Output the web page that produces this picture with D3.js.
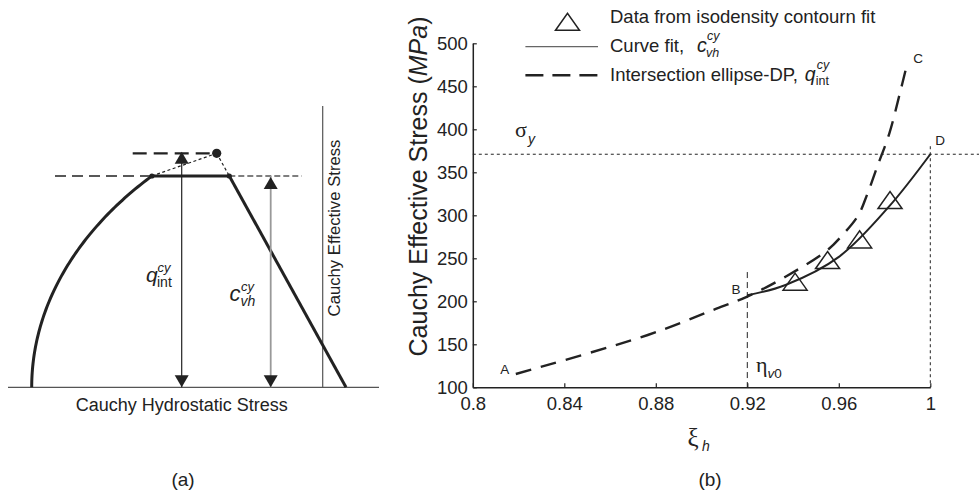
<!DOCTYPE html>
<html>
<head>
<meta charset="utf-8">
<script src="https://cdn.jsdelivr.net/npm/d3@7"></script>
<style>
  body { margin: 0; background: #fff; }
  text { font-family: "Liberation Sans", Arial, sans-serif; fill: #222; }
  .greek { font-family: "Liberation Serif", "Times New Roman", serif; }
</style>
</head>
<body>
<svg id="fig" width="979" height="494"></svg>
<script>
// ---------- panel (b) data ----------
const xiTicks = [0.8, 0.84, 0.88, 0.92, 0.96, 1];
const stressTicks = [100, 150, 200, 250, 300, 350, 400, 450, 500];

// isodensity contour fit points
const isoXi     = [0.9409, 0.9551, 0.9691, 0.9824];
const isoStress = [222.8, 248.0, 272.0, 317.8];

// curve fit c_vh (B -> D)
const fitXi     = [0.92, 0.9367, 0.9602, 0.9819, 1.0];
const fitStress = [207, 219, 252, 310, 371];

// intersection ellipse-DP q_int (A -> B -> C)
const intXi     = [0.8188, 0.8765, 0.9050, 0.9200, 0.9367, 0.9551, 0.9619, 0.9685, 0.9725, 0.9768, 0.9821, 0.9868, 0.9894];
const intStress = [115.5, 160.8, 189.9, 205.5, 228.6, 259.7, 277.9, 300.0, 325.0, 356.5, 395.3, 443.0, 470.9];

const yieldStress = 371;   // sigma_y
const etaV0 = 0.92;        // eta_v0
const etaTop = 234;

// ---------- panel (a) schematic values ----------
const capCentre = 454.7, capRx = 431, capRy = 305;  // elliptical cap
const cvhLevel = 211.3;                              // c_vh level
const apex = [208.7, 234];                           // ellipse / DP intersection
const dpStartP = 221.3, dpEndP = 338;                // Drucker-Prager line
const qIntArrowP = 173.7, cvhArrowP = 262.7;
const effAxisP = 314.7, effAxisTop = 281.3;
const dashLowStart = 47, dashGreyEnd = 293.7, dashHighStart = 124.7;

const ink = "#222";
const svg = d3.select("#fig");

// ====================== panel (b) ======================
const x = d3.scaleLinear().domain([0.8, 1]).range([472.8, 930.3]);
const y = d3.scaleLinear().domain([100, 500]).range([387.3, 43.3]);
const gB = svg.append("g");

// yield stress line and guides
gB.append("line")
  .attr("x1", x(0.8)).attr("x2", 979)
  .attr("y1", y(yieldStress)).attr("y2", y(yieldStress))
  .attr("stroke", ink).attr("stroke-width", 1).attr("stroke-dasharray", "3,3");
gB.append("line")
  .attr("x1", x(1)).attr("x2", x(1))
  .attr("y1", y(yieldStress) - 8).attr("y2", y(100))
  .attr("stroke", ink).attr("stroke-width", 1).attr("stroke-dasharray", "3,3");
gB.append("line")
  .attr("x1", x(etaV0)).attr("x2", x(etaV0))
  .attr("y1", y(etaTop)).attr("y2", y(100))
  .attr("stroke", ink).attr("stroke-width", 1).attr("stroke-dasharray", "6,4");

const line = d3.line().x(d => x(d[0])).y(d => y(d[1])).curve(d3.curveCatmullRom.alpha(0.5));

gB.append("path")
  .datum(intXi.map((v, i) => [v, intStress[i]]))
  .attr("d", line).attr("fill", "none")
  .attr("stroke", ink).attr("stroke-width", 2.4).attr("stroke-dasharray", "16,10");

gB.append("path")
  .datum(fitXi.map((v, i) => [v, fitStress[i]]))
  .attr("d", line).attr("fill", "none")
  .attr("stroke", ink).attr("stroke-width", 2);

const tri = (cx, cy) => `M${cx - 12},${cy + 8.5}L${cx},${cy - 8.5}L${cx + 12},${cy + 8.5}Z`;
gB.selectAll("path.iso").data(isoXi.map((v, i) => [v, isoStress[i]])).join("path")
  .attr("class", "iso")
  .attr("d", d => tri(x(d[0]), y(d[1])))
  .attr("fill", "none").attr("stroke", ink).attr("stroke-width", 1.5);

// axes
const xAxis = gB.append("g").attr("transform", `translate(0,${y(100)})`)
  .call(d3.axisBottom(x).tickValues(xiTicks).tickSizeInner(-4).tickSizeOuter(0).tickPadding(10)
    .tickFormat(d => String(+d.toFixed(2))));
const yAxis = gB.append("g").attr("transform", `translate(${x(0.8)},0)`)
  .call(d3.axisLeft(y).tickValues(stressTicks).tickSizeInner(-4).tickSizeOuter(0).tickPadding(5));
[xAxis, yAxis].forEach(g => {
  g.attr("color", ink).attr("font-size", 18.5).attr("font-family", "Liberation Sans, Arial, sans-serif");
  g.select(".domain").attr("stroke-width", 1.5);
  g.selectAll(".tick line").attr("stroke-width", 1.2);
});

// axis titles
const yTitle = gB.append("text")
  .attr("transform", `translate(427,186.5) rotate(-90)`)
  .attr("text-anchor", "middle").attr("font-size", 25);
yTitle.append("tspan").text("Cauchy Effective Stress (");
yTitle.append("tspan").attr("font-style", "italic").text("MPa");
yTitle.append("tspan").text(")");

gB.append("text").attr("class", "greek").attr("x", 687.5).attr("y", 446).attr("font-size", 25).text("ξ");
gB.append("text").attr("x", 702).attr("y", 451).attr("font-size", 14)
  .attr("font-style", "italic").text("h");

// point labels
const ptLabel = (t, px, py) => gB.append("text").attr("x", px).attr("y", py)
  .attr("font-size", 13.5).attr("text-anchor", "middle").text(t);
ptLabel("A", x(0.8188) - 11, y(115.5) + 0);
ptLabel("B", 736, 294);
ptLabel("C", 918, 63);
ptLabel("D", 940, 145);

gB.append("text").attr("class", "greek").attr("x", 515).attr("y", 137).attr("font-size", 22).text("σ");
gB.append("text").attr("x", 528).attr("y", 144).attr("font-size", 14).attr("font-style", "italic").text("y");

gB.append("text").attr("class", "greek").attr("x", 756).attr("y", 372).attr("font-size", 22).text("η");
const vsub = gB.append("text").attr("x", 767.5).attr("y", 378).attr("font-size", 13.5);
vsub.append("tspan").attr("font-style", "italic").text("v");
vsub.append("tspan").text("0");

// legend
const lgX = 610;
gB.append("path").attr("d", tri(567.5, 21.7)).attr("fill", "none").attr("stroke", ink).attr("stroke-width", 1.5);
gB.append("text").attr("x", lgX).attr("y", 23).attr("font-size", 18.5).text("Data from isodensity contourn fit");

gB.append("line").attr("x1", 525.4).attr("x2", 598).attr("y1", 46.7).attr("y2", 46.7)
  .attr("stroke", "#666").attr("stroke-width", 1.3);
const l2 = gB.append("text").attr("x", lgX).attr("y", 52).attr("font-size", 18.5).text("Curve fit,");
const w2 = l2.node().getComputedTextLength();
gB.append("text").attr("x", lgX + w2 + 13).attr("y", 52).attr("font-size", 19.5).attr("font-style", "italic").text("c");
gB.append("text").attr("x", lgX + w2 + 23).attr("y", 40).attr("font-size", 12.5).attr("font-style", "italic").text("cy");
gB.append("text").attr("x", lgX + w2 + 22).attr("y", 57).attr("font-size", 12.5).attr("font-style", "italic").text("vh");

gB.append("line").attr("x1", 525.4).attr("x2", 598).attr("y1", 75.3).attr("y2", 75.3)
  .attr("stroke", ink).attr("stroke-width", 2.6).attr("stroke-dasharray", "18,9");
const l3 = gB.append("text").attr("x", lgX).attr("y", 81).attr("font-size", 18.5).text("Intersection ellipse-DP,");
const w3 = l3.node().getComputedTextLength();
gB.append("text").attr("x", lgX + w3 + 7).attr("y", 81).attr("font-size", 19.5).attr("font-style", "italic").text("q");
gB.append("text").attr("x", lgX + w3 + 19).attr("y", 69).attr("font-size", 12.5).attr("font-style", "italic").text("cy");
gB.append("text").attr("x", lgX + w3 + 18).attr("y", 85).attr("font-size", 12.5).text("int");

gB.append("text").attr("x", 710).attr("y", 486).attr("text-anchor", "middle").attr("font-size", 19).text("(b)");

// ====================== panel (a) ======================
const pA = d3.scaleLinear().domain([0, 371]).range([8, 379]);
const qA = d3.scaleLinear().domain([0, effAxisTop]).range([387.3, 106]);
const gA = svg.append("g");
const seg = (p1, q1, p2, q2) => gA.append("line")
  .attr("x1", pA(p1)).attr("y1", qA(q1)).attr("x2", pA(p2)).attr("y2", qA(q2));

// axes of the schematic
seg(0, 0, 371, 0).attr("stroke", "#555").attr("stroke-width", 1.2);
seg(effAxisP, 0, effAxisP, effAxisTop).attr("stroke", "#555").attr("stroke-width", 1.2);

// elliptical cap from the hydrostatic axis up to the c_vh level
const thetaEnd = Math.PI - Math.asin(cvhLevel / capRy);
const capPts = d3.range(0, 81).map(i => {
  const t = Math.PI + (thetaEnd - Math.PI) * i / 80;
  return [capCentre + capRx * Math.cos(t), capRy * Math.sin(t)];
});
const capTopP = capPts[capPts.length - 1][0];
gA.append("path")
  .attr("d", d3.line().x(d => pA(d[0])).y(d => qA(d[1]))(capPts))
  .attr("fill", "none").attr("stroke", ink).attr("stroke-width", 3);

// horizontal guides
seg(dashLowStart, cvhLevel, capTopP, cvhLevel).attr("stroke", ink).attr("stroke-width", 1.4).attr("stroke-dasharray", "11,6");
seg(dpStartP, cvhLevel, dashGreyEnd, cvhLevel).attr("stroke", "#555").attr("stroke-width", 1.4).attr("stroke-dasharray", "6,3");
seg(dashHighStart, apex[1], apex[0], apex[1]).attr("stroke", ink).attr("stroke-width", 2.2).attr("stroke-dasharray", "14,7");

// flat top and Drucker-Prager line
seg(capTopP, cvhLevel, dpStartP, cvhLevel).attr("stroke", ink).attr("stroke-width", 3);
seg(dpStartP, cvhLevel, dpEndP, 0).attr("stroke", ink).attr("stroke-width", 3);

// dotted extensions to the intersection point
seg(capTopP, cvhLevel, apex[0], apex[1]).attr("stroke", ink).attr("stroke-width", 1.2).attr("stroke-dasharray", "3,2.5");
seg(apex[0], apex[1], dpStartP, cvhLevel).attr("stroke", ink).attr("stroke-width", 1.2).attr("stroke-dasharray", "3,2.5");

gA.append("circle").attr("cx", pA(capTopP)).attr("cy", qA(cvhLevel)).attr("r", 2.6).attr("fill", ink);
gA.append("circle").attr("cx", pA(dpStartP)).attr("cy", qA(cvhLevel)).attr("r", 2.6).attr("fill", ink);
gA.append("circle").attr("cx", pA(apex[0])).attr("cy", qA(apex[1])).attr("r", 4.6).attr("fill", ink);

// double-headed arrows
const head = (p, qTip, dir) => {
  const cx = pA(p), ty = qA(qTip), by = ty + dir * 12;
  gA.append("path").attr("d", `M${cx},${ty}L${cx - 7},${by}L${cx + 7},${by}Z`).attr("fill", ink);
};
seg(qIntArrowP, 0, qIntArrowP, apex[1]).attr("stroke", ink).attr("stroke-width", 1.2);
head(qIntArrowP, apex[1] + 1.5, 1);
head(qIntArrowP, 0, -1);
seg(cvhArrowP, 0, cvhArrowP, cvhLevel).attr("stroke", "#999").attr("stroke-width", 1.8);
head(cvhArrowP, cvhLevel - 1, 1);
head(cvhArrowP, 0, -1);

// labels
gA.append("text").attr("x", 146).attr("y", 281.7).attr("font-size", 21).attr("font-style", "italic").text("q");
gA.append("text").attr("x", 157.5).attr("y", 271.5).attr("font-size", 13).attr("font-style", "italic").text("cy");
gA.append("text").attr("x", 157).attr("y", 286.5).attr("font-size", 14).text("int");

gA.append("text").attr("x", 229.5).attr("y", 300.7).attr("font-size", 22).attr("font-style", "italic").text("c");
gA.append("text").attr("x", 241).attr("y", 291).attr("font-size", 13).attr("font-style", "italic").text("cy");
gA.append("text").attr("x", 240.5).attr("y", 305.5).attr("font-size", 14).attr("font-style", "italic").text("vh");

gA.append("text").attr("x", 181.7).attr("y", 411).attr("text-anchor", "middle").attr("font-size", 18).text("Cauchy Hydrostatic Stress");
gA.append("text").attr("transform", "translate(340,228) rotate(-90)").attr("text-anchor", "middle")
  .attr("font-size", 16.7).text("Cauchy Effective Stress");
gA.append("text").attr("x", 183).attr("y", 486).attr("text-anchor", "middle").attr("font-size", 19).text("(a)");
</script>
</body>
</html>
